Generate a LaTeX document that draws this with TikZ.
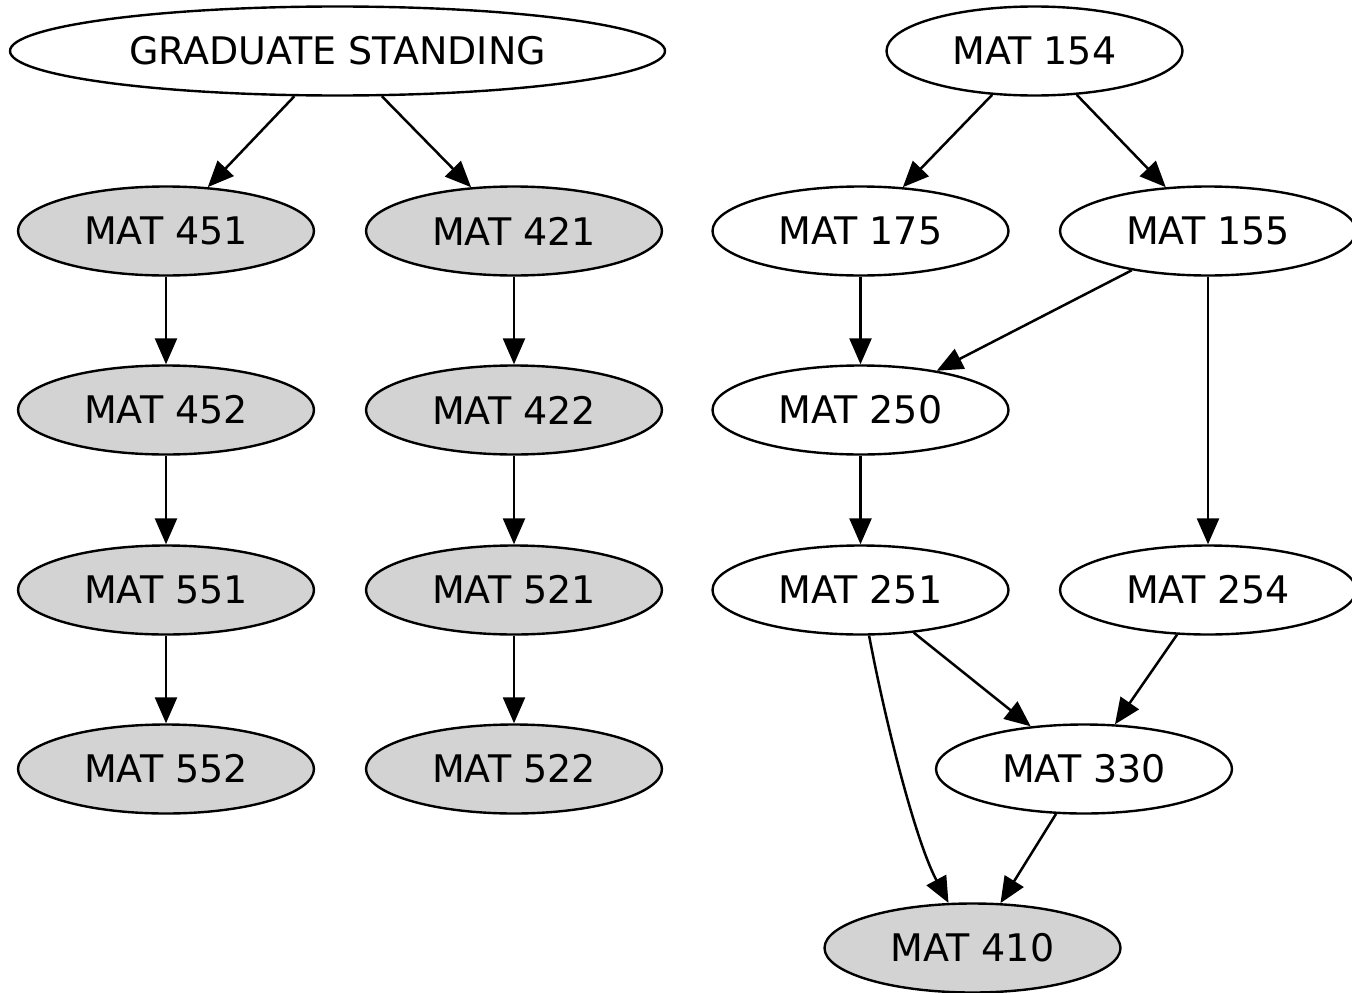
\documentclass[tikz,border=0pt]{standalone}
\usepackage{fontspec}
\setmainfont{DejaVu Sans}
\usetikzlibrary{shapes.geometric,arrows.meta}
\begin{document}
\begin{tikzpicture}[x=1pt,y=-1pt,
  crs/.style={ellipse,draw,line width=2.4pt,inner sep=0pt,minimum width=296pt,minimum height=89pt,font=\fontsize{38}{40}\selectfont},
  grad/.style={crs,fill={rgb,255:red,211;green,211;blue,211}},
  edge/.style={line width=2.5pt,-{Triangle[length=26pt,width=22pt]}}]
\useasboundingbox (0,0) rectangle (1352,993);
\node[crs,minimum width=655pt] (gs) at (337.5,51) {GRADUATE STANDING};
\node[grad] (m451) at (166,231) {MAT 451};
\node[grad] (m452) at (166,410) {MAT 452};
\node[grad] (m551) at (166,590) {MAT 551};
\node[grad] (m552) at (166,769) {MAT 552};
\node[grad] (m421) at (514,231) {MAT 421};
\node[grad] (m422) at (514,410) {MAT 422};
\node[grad] (m521) at (514,590) {MAT 521};
\node[grad] (m522) at (514,769) {MAT 522};
\node[crs] (m154) at (1034.5,51) {MAT 154};
\node[crs] (m175) at (860.5,231) {MAT 175};
\node[crs] (m155) at (1208,231) {MAT 155};
\node[crs] (m250) at (860.5,410) {MAT 250};
\node[crs] (m251) at (860.5,590) {MAT 251};
\node[crs] (m254) at (1208,590) {MAT 254};
\node[crs] (m330) at (1084,769) {MAT 330};
\node[grad] (m410) at (972.5,948) {MAT 410};
\draw[edge] (gs) -- (m451);
\draw[edge] (gs) -- (m421);
\draw[edge] (m451) -- (m452);
\draw[edge] (m452) -- (m551);
\draw[edge] (m551) -- (m552);
\draw[edge] (m421) -- (m422);
\draw[edge] (m422) -- (m521);
\draw[edge] (m521) -- (m522);
\draw[edge] (m154) -- (m175);
\draw[edge] (m154) -- (m155);
\draw[edge] (m175) -- (m250);
\draw[edge] (m155) -- (m250);
\draw[edge] (m155) -- (m254);
\draw[edge] (m250) -- (m251);
\draw[edge] (m251) -- (m330);
\draw[edge] (m254) -- (m330);
\draw[edge] (m330) -- (m410);
\draw[edge] (m251) .. controls (885,720) and (915,840) .. (m410);
\end{tikzpicture}
\end{document}
